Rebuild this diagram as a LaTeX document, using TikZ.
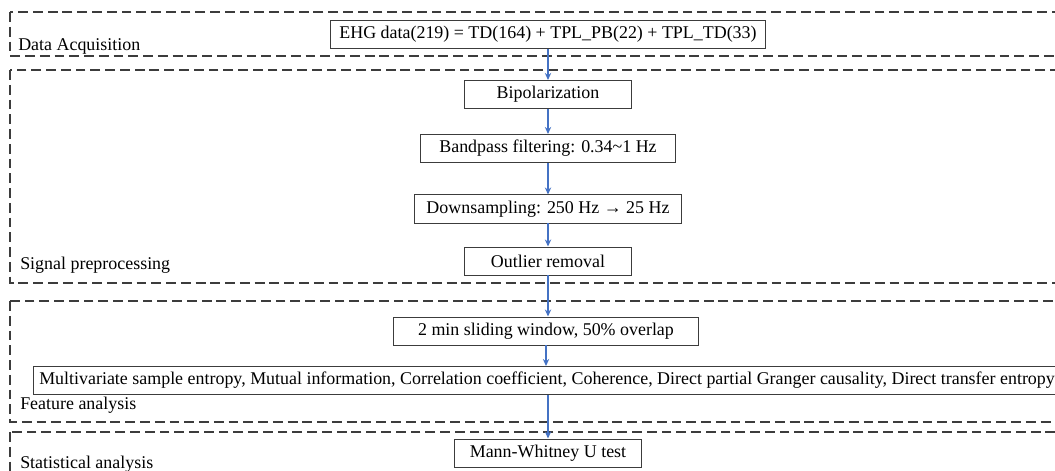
\documentclass[tikz,border=0pt]{standalone}
\usepackage{fontspec}
\setmainfont{Liberation Serif}
\usepackage{tikz}
\usepackage{xcolor}
\usetikzlibrary{arrows.meta}
\definecolor{flowblue}{RGB}{68,114,196}
\definecolor{linegray}{RGB}{60,60,60}

\begin{document}
\begin{tikzpicture}[x=0.025cm, y=-0.025cm,
  every node/.style={font=\fontsize{12.75pt}{14pt}\selectfont},
  box/.style={draw=linegray, line width=0.7pt, minimum height=0.7cm, inner xsep=2pt, inner ysep=0pt},
  stage/.style={draw=linegray, line width=0.9pt, dash pattern=on 7pt off 3.5pt},
  stagelabel/.style={anchor=west, inner sep=0pt},
  flow/.style={draw=flowblue, line width=1pt, -{Stealth[length=5pt,width=4.5pt]}}]
\useasboundingbox (0,0) rectangle (1055,471);
\clip (0,0) rectangle (1055,471);
% stages
\draw[stage] (10,12) rectangle (1075,56);
\draw[stage] (10,70) rectangle (1075,283);
\draw[stage] (10,301) rectangle (1075,422);
\draw[stage] (10,432) rectangle (1075,495);
\node[stagelabel] (lacq) at (18,46) {Data Acquisition};
\node[stagelabel] (lpre) at (20,265) {Signal preprocessing};
\node[stagelabel] (lfeat) at (20,405) {Feature analysis};
\node[stagelabel] (lstat) at (20,464) {Statistical analysis};
% steps
\node[box, minimum width=10.875cm] (ehg) at (548,34.5) {EHG data(219) = TD(164) + TPL\_PB(22) + TPL\_TD(33)};
\node[box, minimum width=4.175cm] (bip) at (548,94.5) {Bipolarization};
\node[box, minimum width=6.35cm] (band) at (548,148.5) {Bandpass filtering: 0.34\textasciitilde 1 Hz};
\node[box, minimum width=6.65cm] (down) at (548,209) {Downsampling: 250 Hz → 25 Hz};
\node[box, minimum width=4.175cm] (outl) at (548,261) {Outlier removal};
\node[box, minimum width=7.625cm] (slide) at (546,331) {2 min sliding window, 50\% overlap};
\node[box, minimum width=25.6cm, inner xsep=4pt] (feat) at (547,380.5) {Multivariate sample entropy, Mutual information, Correlation coefficient, Coherence, Direct partial Granger causality, Direct transfer entropy};
\node[box, minimum width=4.675cm] (mw) at (548,453) {Mann-Whitney U test};
\draw[flow] (ehg)--(bip); \draw[flow] (bip)--(band); \draw[flow] (band)--(down); \draw[flow] (down)--(outl);
\draw[flow] (outl.south)--(outl.south |- slide.north); \draw[flow] (slide.south)--(slide.south |- feat.north); \draw[flow] (mw.north |- feat.south)--(mw);
\end{tikzpicture}
\end{document}
